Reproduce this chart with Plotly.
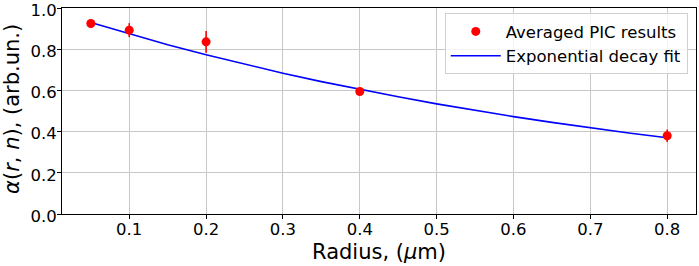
import plotly.graph_objects as go

radius = [0.05, 0.1, 0.2, 0.4, 0.8]
alpha_pic = [0.925, 0.893, 0.836, 0.595, 0.380]
alpha_err = [0.010, 0.034, 0.053, 0.010, 0.030]

fit_r = [0.05, 0.1, 0.15, 0.2, 0.25, 0.3, 0.35, 0.4, 0.45, 0.5, 0.55, 0.6, 0.65, 0.7, 0.75, 0.8]
fit_alpha = [0.930, 0.875, 0.822, 0.773, 0.727, 0.684, 0.643, 0.605, 0.569, 0.535, 0.503, 0.473, 0.445, 0.418, 0.393, 0.370]

x_ticks = [0.1, 0.2, 0.3, 0.4, 0.5, 0.6, 0.7, 0.8]
y_ticks = [0.0, 0.2, 0.4, 0.6, 0.8, 1.0]

x_title = "Radius, (<i>μ</i>m)"
y_title = "<i>α</i>(<i>r</i>, <i>n</i>), (arb.un.)"

font = "DejaVu Sans"

fig = go.Figure()
fig.add_trace(go.Scatter(
    x=fit_r, y=fit_alpha, mode="lines",
    line=dict(color="blue", width=1.6),
    name="Exponential decay fit",
))
fig.add_trace(go.Scatter(
    x=radius, y=alpha_pic, mode="markers",
    marker=dict(color="red", size=9),
    error_y=dict(type="data", array=alpha_err, color="red", thickness=1.6, width=0),
    name="Averaged PIC results",
))

fig.update_layout(
    width=699, height=266,
    margin=dict(l=62, r=3, t=8, b=52, autoexpand=False),
    paper_bgcolor="white", plot_bgcolor="white",
    font=dict(family=font, size=16.5, color="black"),
    showlegend=True,
    legend=dict(
        x=0.987, y=0.975, xanchor="right", yanchor="top",
        bgcolor="rgba(255,255,255,0.8)", bordercolor="#d0d0d0", borderwidth=1,
        font=dict(size=16.5), traceorder="reversed",
        itemwidth=50, tracegroupgap=0,
    ),
    xaxis=dict(
        range=[0.0125, 0.8375], tickvals=x_ticks,
        ticktext=[f"{v:.1f}" for v in x_ticks],
        tickfont=dict(size=16.5),
        showgrid=True, gridcolor="#c8c8c8", gridwidth=1,
        showline=True, linecolor="black", linewidth=1, mirror=True,
        ticks="outside", ticklen=4, tickcolor="black",
        ticklabelstandoff=-4, automargin=False,
        zeroline=False,
    ),
    yaxis=dict(
        range=[0, 1.0005], tickvals=y_ticks,
        ticktext=[f"{v:.1f}" for v in y_ticks],
        tickfont=dict(size=16.5),
        showgrid=True, gridcolor="#c8c8c8", gridwidth=1,
        showline=True, linecolor="black", linewidth=1, mirror=True,
        ticks="outside", ticklen=4, tickcolor="black",
        ticklabelstandoff=-3, ticklabelshift=2, automargin=False,
        ticklabeloverflow="allow",
        zeroline=False,
    ),
    annotations=[
        dict(text=x_title, xref="paper", yref="paper", x=0.5, y=-0.184,
             xanchor="center", yanchor="middle", showarrow=False,
             font=dict(size=21)),
        dict(text=y_title, xref="paper", yref="paper", x=-0.0789, y=0.51,
             xanchor="center", yanchor="middle", showarrow=False,
             textangle=-90, font=dict(size=21)),
    ],
)

fig.write_html("out.html", config={"displayModeBar": False},
               post_script="document.body.style.margin='0';")
